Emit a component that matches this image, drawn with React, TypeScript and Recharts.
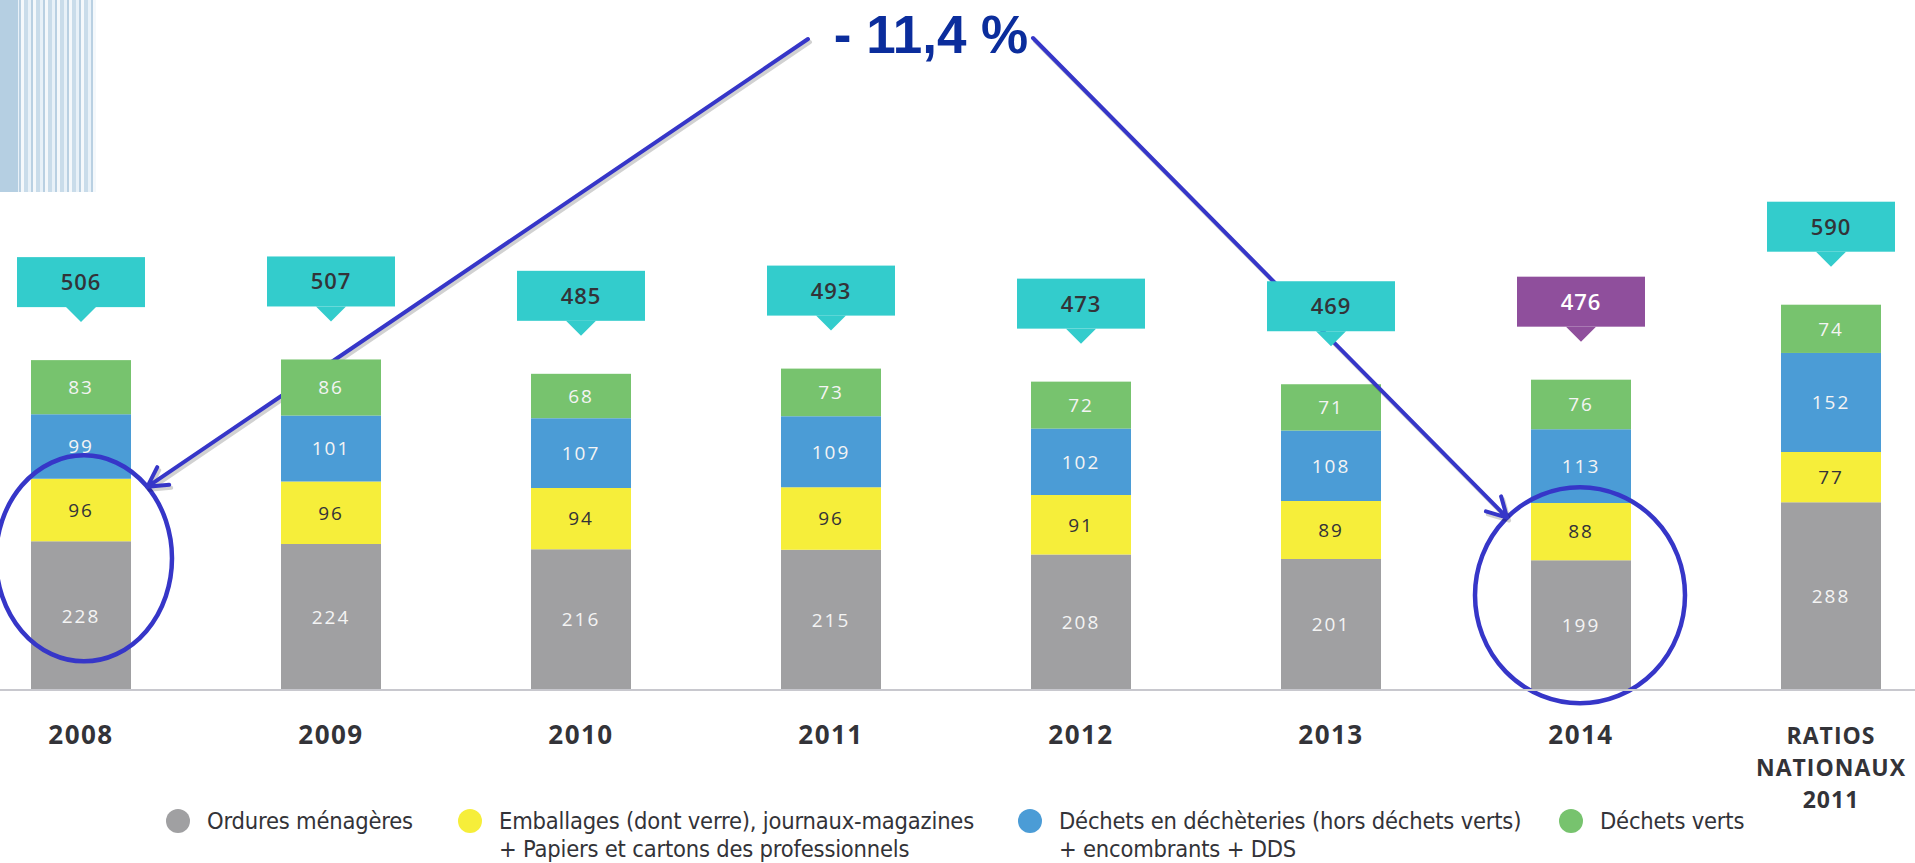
import React from "react";
import { BarChart, Bar, XAxis, YAxis, LabelList } from "recharts";

const categories = ["2008", "2009", "2010", "2011", "2012", "2013", "2014", "RATIOS\nNATIONAUX\n2011"];
const ordures = [228, 224, 216, 215, 208, 201, 199, 288];
const emballages = [96, 96, 94, 96, 91, 89, 88, 77];
const decheteries = [99, 101, 107, 109, 102, 108, 113, 152];
const verts = [83, 86, 68, 73, 72, 71, 76, 74];
const totals = [506, 507, 485, 493, 473, 469, 476, 590];

const seriesNames = [
  ["Ordures ménagères"],
  ["Emballages (dont verre), journaux-magazines", "+ Papiers et cartons des professionnels"],
  ["Déchets en déchèteries (hors déchets verts)", "+ encombrants + DDS"],
  ["Déchets verts"],
];
const headline = "- 11,4 %";
const highlighted = "2014";

const COLORS = ["#a0a0a2", "#f6ee3a", "#4b9cd6", "#77c36e"];
const TEAL = "#33cccc";
const PURPLE = "#8f4f9c";
const INK = "#333338";
const ANNOT = "#3636c8";
const SHIFT = 44; // chart is slid left so the bands line up with the page

// hand-drawn rings and arrows, placed relative to the ringed bar
const rings: Record<string, { dx: number; dy: number; rx: number; ry: number; angle: number; from: [number, number] }> = {
  "2008": { dx: 3, dy: 17, rx: 88, ry: 103, angle: -44, from: [808, 39] },
  "2014": { dx: -1, dy: 35, rx: 105, ry: 108, angle: -134, from: [1033, 38] },
};

const data = categories.map((c, i) => ({
  label: c,
  ordures: ordures[i],
  emballages: emballages[i],
  decheteries: decheteries[i],
  verts: verts[i],
  total: totals[i],
}));

const NUM_FONT = "'Open Sans', 'DejaVu Sans', sans-serif";

function segmentLabel(color: string) {
  return (props: any) => {
    const { x, y, width, height, value } = props;
    return (
      <text
        x={x + width / 2}
        y={y + height / 2}
        dy="0.36em"
        textAnchor="middle"
        fill={color}
        fontFamily={NUM_FONT}
        fontSize={19}
        letterSpacing={2}
      >
        {value}
      </text>
    );
  };
}

function TotalBox(props: any) {
  const { x, y, width, value, index } = props;
  const cx = x + width / 2;
  const special = data[index]?.label === highlighted;
  const bottom = y - 53;
  const top = bottom - 50;
  return (
    <g>
      <rect x={cx - 64} y={top} width={128} height={50} fill={special ? PURPLE : TEAL} />
      <polygon points={`${cx - 15},${bottom} ${cx + 15},${bottom} ${cx},${bottom + 15}`} fill={special ? PURPLE : TEAL} />
      <text
        x={cx}
        y={top + 25}
        dy="0.36em"
        textAnchor="middle"
        fill={special ? "#ffffff" : INK}
        fontFamily={NUM_FONT}
        fontWeight={600}
        fontSize={22}
        letterSpacing={1}
      >
        {value}
      </text>
    </g>
  );
}

function Arrow({ sx, sy, tx, ty }: { sx: number; sy: number; tx: number; ty: number }) {
  const len = Math.hypot(tx - sx, ty - sy);
  const ux = (sx - tx) / len;
  const uy = (sy - ty) / len;
  const arm = (deg: number) => {
    const r = (deg * Math.PI) / 180;
    return [tx + 22 * (ux * Math.cos(r) - uy * Math.sin(r)), ty + 22 * (ux * Math.sin(r) + uy * Math.cos(r))];
  };
  const a = arm(29);
  const b = arm(-29);
  const path = `M${sx},${sy} L${tx},${ty} M${a[0]},${a[1]} L${tx},${ty} L${b[0]},${b[1]}`;
  return (
    <g fill="none" strokeLinecap="round" strokeLinejoin="round">
      <path d={path} stroke="#000" strokeOpacity={0.18} strokeWidth={4} transform="translate(2,3)" />
      <path d={path} stroke={ANNOT} strokeWidth={4} />
    </g>
  );
}

function TopSegment(props: any) {
  const { x, y, width, height, fill, payload } = props;
  const ring = payload ? rings[payload.label] : undefined;
  let extra = null;
  if (ring && height > 0) {
    const k = height / payload.verts;
    const grayTop = y + height + k * (payload.decheteries + payload.emballages);
    const cx = x + width / 2 + ring.dx;
    const cy = grayTop + ring.dy;
    const r = (ring.angle * Math.PI) / 180;
    const tx = cx + ring.rx * Math.cos(r);
    const ty = cy + ring.ry * Math.sin(r);
    extra = (
      <g>
        <ellipse cx={cx} cy={cy} rx={ring.rx} ry={ring.ry} fill="none" stroke={ANNOT} strokeWidth={4.5} />
        <Arrow sx={ring.from[0] + SHIFT} sy={ring.from[1]} tx={tx} ty={ty} />
      </g>
    );
  }
  return (
    <g>
      <rect x={x} y={y} width={width} height={height} fill={fill} />
      {extra}
    </g>
  );
}

function CategoryTick(props: any) {
  const { x, y, payload } = props;
  const lines = String(payload.value).split("\n");
  const multi = lines.length > 1;
  return (
    <text
      x={x}
      y={y}
      textAnchor="middle"
      fill={INK}
      fontFamily={NUM_FONT}
      fontWeight={700}
      fontSize={multi ? 23 : 26}
      letterSpacing={multi ? 1 : 1.5}
    >
      {lines.map((l, i) => (
        <tspan key={i} x={x} dy={i === 0 ? 54 : 32}>
          {l}
        </tspan>
      ))}
    </text>
  );
}

function LegendRow() {
  const lefts = [166, 458, 1018, 1559];
  return (
    <>
      {seriesNames.map((lines, i) => (
        <div key={i} style={{ position: "absolute", left: lefts[i], top: 807, display: "flex", alignItems: "flex-start" }}>
          <div
            style={{ width: 24, height: 24, borderRadius: 12, background: COLORS[i], marginTop: 2, marginRight: 17, flex: "none" }}
          />
          <div
            style={{
              fontFamily: "'DejaVu Sans Condensed', 'DejaVu Sans', sans-serif",
              fontStretch: "condensed",
              fontSize: 23.5,
              lineHeight: "28px",
              letterSpacing: -0.2,
              color: INK,
              whiteSpace: "nowrap",
            }}
          >
            {lines.map((l, j) => (
              <div key={j}>{l}</div>
            ))}
          </div>
        </div>
      ))}
    </>
  );
}

export default function App() {
  return (
    <div style={{ position: "absolute", left: 0, top: 0, width: 1915, height: 863, overflow: "hidden", background: "#fff" }}>
      {/* striped corner decoration */}
      <div
        style={{
          position: "absolute",
          left: 0,
          top: 0,
          width: 96,
          height: 192,
          background:
            "linear-gradient(90deg, #b5cfe2 0px, #b5cfe2 18px, transparent 18px), repeating-linear-gradient(90deg, #c9dcea 0px, #c9dcea 4px, #e8f1f8 4px, #e8f1f8 7px, #b9d0e2 7px, #b9d0e2 9px, #f4f8fb 9px, #f4f8fb 12px)",
        }}
      />
      <div
        style={{
          position: "absolute",
          left: 731,
          top: 8,
          width: 400,
          textAlign: "center",
          fontFamily: "'Liberation Sans', Arial, sans-serif",
          fontWeight: 700,
          fontSize: 53,
          lineHeight: "53px",
          color: "#0b2d9c",
          whiteSpace: "pre",
        }}
      >
        {headline}
      </div>
      <div style={{ position: "absolute", left: -SHIFT, top: 0 }}>
        <BarChart width={2050} height={863} data={data} margin={{ top: 100, right: 50, left: 0, bottom: 53 }} barSize={100}>
          <XAxis
            dataKey="label"
            height={120}
            interval={0}
            tickLine={false}
            tickSize={0}
            tickMargin={0}
            axisLine={{ stroke: "#c8c8ce", strokeWidth: 2 }}
            tick={<CategoryTick />}
          />
          <YAxis hide domain={[0, 905]} />
          <Bar dataKey="ordures" stackId="a" fill={COLORS[0]} isAnimationActive={false}>
            <LabelList dataKey="ordures" content={segmentLabel("#f4f4f4")} />
          </Bar>
          <Bar dataKey="emballages" stackId="a" fill={COLORS[1]} isAnimationActive={false}>
            <LabelList dataKey="emballages" content={segmentLabel(INK)} />
          </Bar>
          <Bar dataKey="decheteries" stackId="a" fill={COLORS[2]} isAnimationActive={false}>
            <LabelList dataKey="decheteries" content={segmentLabel("#f4f4f4")} />
          </Bar>
          <Bar dataKey="verts" stackId="a" fill={COLORS[3]} isAnimationActive={false} shape={<TopSegment />}>
            <LabelList dataKey="verts" content={segmentLabel("#f4f4f4")} />
            <LabelList dataKey="total" content={<TotalBox />} />
          </Bar>
        </BarChart>
      </div>
      <LegendRow />
    </div>
  );
}
